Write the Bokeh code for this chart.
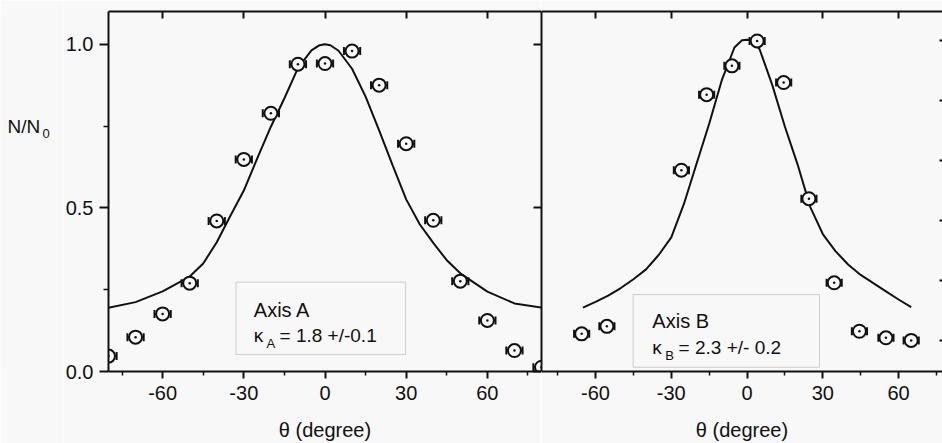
from bokeh.plotting import figure
from bokeh.models import (LinearAxis, FixedTicker, Range1d, Label, BoxAnnotation,
                          NumeralTickFormatter, CustomJSTickFormatter, ColumnDataSource)
from bokeh.layouts import row
from bokeh.embed import file_html
from bokeh.resources import INLINE

FONT = "Liberation Sans"
BG = "#f7f8f7"
INK = "#111111"

# ---- Axis A: normalised counts vs angle ----
theta_a = [-80, -70, -60, -50, -40, -30, -20, -10, 0, 10, 20, 30, 40, 50, 60, 70, 80]
ratio_a = [0.047, 0.105, 0.176, 0.270, 0.460, 0.648, 0.789, 0.939, 0.941,
           0.979, 0.875, 0.696, 0.462, 0.276, 0.156, 0.064, 0.013]

# fitted distribution for axis A
fit_theta_a = [-80, -70, -60, -50, -45, -40, -35, -30, -25, -20, -15, -10, -5, -2, 0,
               2, 5, 10, 15, 20, 25, 30, 35, 40, 45, 50, 60, 70, 80]
fit_ratio_a = [0.195, 0.212, 0.245, 0.290, 0.330, 0.395, 0.475, 0.553, 0.652, 0.748,
               0.835, 0.927, 0.981, 0.997, 1.000, 0.997, 0.980, 0.925, 0.840, 0.737,
               0.630, 0.526, 0.450, 0.393, 0.340, 0.300, 0.244, 0.208, 0.195]

# ---- Axis B ----
theta_b = [-65.5, -55.5, -26, -16, -6, 4, 14.5, 24.5, 34.5, 44.5, 55, 65]
ratio_b = [0.115, 0.138, 0.615, 0.846, 0.934, 1.010, 0.883, 0.528, 0.271, 0.123, 0.103, 0.095]

fit_theta_b = [-65, -60, -55, -50, -45, -40, -35, -30, -25, -20, -15, -10, -5, -2, 0,
               2, 5, 10, 15, 20, 25, 30, 35, 40, 45, 50, 55, 60, 65]
fit_ratio_b = [0.195, 0.213, 0.232, 0.255, 0.282, 0.312, 0.356, 0.410, 0.512, 0.635,
               0.757, 0.890, 0.990, 1.012, 1.014, 1.012, 0.984, 0.875, 0.748, 0.633,
               0.503, 0.420, 0.368, 0.327, 0.295, 0.270, 0.245, 0.220, 0.197]

# angular uncertainty of each point (degrees)
theta_err = 3.0

x_major_ticks = [-60, -30, 0, 30, 60]
x_minor_ticks = [-75, -45, -15, 15, 45, 75]
y_major_ticks = [0.0, 0.5, 1.0]
y_minor_ticks = [0.25, 0.75]
edge_ticks = [0.0, 0.2, 0.4, 0.6, 0.8, 1.0]

BLANK = CustomJSTickFormatter(code="return ''")


def make_panel(width, x_start, x_end, border_left):
    p = figure(width=width, height=443,
               x_range=Range1d(x_start, x_end), y_range=Range1d(0, 1.1),
               output_backend="svg", toolbar_location=None,
               x_axis_location=None, y_axis_location=None,
               min_border_left=border_left, min_border_right=0,
               min_border_top=11, min_border_bottom=72,
               background_fill_color=BG, border_fill_color=BG,
               outline_line_color=None)
    p.xgrid.visible = False
    p.ygrid.visible = False
    return p


def line_axis(ax):
    ax.axis_line_color = INK
    ax.axis_line_width = 2
    ax.major_tick_line_color = INK
    ax.major_tick_line_width = 2
    ax.minor_tick_line_color = INK
    ax.minor_tick_line_width = 1.5
    return ax


def silent_axis(ax):
    # tick marks only, no tick text
    ax.formatter = BLANK
    ax.major_label_text_font_size = "1px"
    ax.major_label_standoff = 0
    ax.minor_tick_line_color = None
    return ax


def add_frame_axes(p):
    bottom = line_axis(LinearAxis(ticker=FixedTicker(ticks=x_major_ticks, minor_ticks=x_minor_ticks)))
    bottom.formatter = NumeralTickFormatter(format="0")
    bottom.major_tick_out = 7
    bottom.major_tick_in = 0
    bottom.minor_tick_out = 4
    bottom.minor_tick_in = 0
    bottom.major_label_text_font = FONT
    bottom.major_label_text_font_size = "20px"
    bottom.major_label_text_color = INK
    bottom.major_label_standoff = 7
    bottom.axis_label = "θ (degree)"
    bottom.axis_label_text_font = FONT
    bottom.axis_label_text_font_size = "20px"
    bottom.axis_label_text_font_style = "normal"
    bottom.axis_label_text_color = INK
    bottom.axis_label_standoff = 16
    p.add_layout(bottom, "below")

    top = silent_axis(line_axis(LinearAxis(ticker=FixedTicker(ticks=x_major_ticks))))
    top.major_tick_in = 7
    top.major_tick_out = 0
    p.add_layout(top, "above")


def draw_points(p, thetas, ratios):
    src = ColumnDataSource(dict(
        x=thetas, y=ratios,
        lo=[t - theta_err for t in thetas],
        hi=[t + theta_err for t in thetas]))
    p.segment(x0="lo", x1="hi", y0="y", y1="y", source=src, line_color=INK, line_width=2)
    p.scatter(x="lo", y="y", source=src, marker="dash", angle=1.5708, size=8,
              line_color=INK, line_width=2)
    p.scatter(x="hi", y="y", source=src, marker="dash", angle=1.5708, size=8,
              line_color=INK, line_width=2)
    p.scatter(x="x", y="y", source=src, marker="circle", size=13,
              fill_color=BG, line_color=INK, line_width=2)
    p.scatter(x="x", y="y", source=src, marker="circle", size=2.5,
              fill_color=INK, line_color=None)


def text(p, x, y, s, size="20px"):
    p.add_layout(Label(x=x, y=y, text=s, text_font=FONT, text_font_size=size,
                       text_color=INK, text_align="left", text_baseline="alphabetic"))


# ---------------- y-axis title strip ----------------
ylab = figure(width=62, height=443, x_range=Range1d(0, 62), y_range=Range1d(443, 0),
              output_backend="svg", toolbar_location=None,
              x_axis_location=None, y_axis_location=None,
              min_border_left=0, min_border_right=0, min_border_top=0, min_border_bottom=0,
              background_fill_color=BG, border_fill_color=BG, outline_line_color=None)
ylab.xgrid.visible = False
ylab.ygrid.visible = False
text(ylab, 7, 142, "N/N", "19px")
text(ylab, 42, 150, "0", "13px")

# ---------------- left panel (axis A) ----------------
pa = make_panel(479, -80, 80, 44)
add_frame_axes(pa)

left = line_axis(LinearAxis(ticker=FixedTicker(ticks=y_major_ticks, minor_ticks=y_minor_ticks)))
left.major_tick_out = 9
left.major_tick_in = 0
left.minor_tick_out = 5
left.minor_tick_in = 0
left.formatter = NumeralTickFormatter(format="0.0")
left.major_label_text_font = FONT
left.major_label_text_font_size = "20px"
left.major_label_text_color = INK
left.major_label_standoff = 6
pa.add_layout(left, "left")

divider = silent_axis(line_axis(LinearAxis(ticker=FixedTicker(ticks=y_major_ticks))))
divider.major_tick_in = 8
divider.major_tick_out = 0
pa.add_layout(divider, "right")

pa.line(fit_theta_a, fit_ratio_a, line_color=INK, line_width=2)
draw_points(pa, theta_a, ratio_a)

pa.add_layout(BoxAnnotation(left=-32.9, right=29.8, bottom=0.052, top=0.273,
                            fill_alpha=0, line_color="#6a6a6a", line_width=1))
text(pa, -26.3, 0.189, "Axis A")
text(pa, -26.3, 0.110, "κ", "19px")
text(pa, -21.6, 0.086, "A", "13px")
text(pa, -16.8, 0.110, "= 1.8 +/-0.1", "19px")

# ---------------- right panel (axis B) ----------------
pb = make_panel(401, -81.4, 77.4, 0)
pb.extra_y_ranges = {"edge": Range1d(-0.1033, 1.0967)}
add_frame_axes(pb)

seam = silent_axis(line_axis(LinearAxis(ticker=FixedTicker(ticks=[]))))
seam.major_tick_in = 0
seam.major_tick_out = 0
pb.add_layout(seam, "left")

edge = silent_axis(LinearAxis(y_range_name="edge", ticker=FixedTicker(ticks=edge_ticks)))
edge.axis_line_color = None
edge.major_tick_line_color = INK
edge.major_tick_line_width = 2
edge.major_tick_in = 3
edge.major_tick_out = 0
pb.add_layout(edge, "right")

pb.line(fit_theta_b, fit_ratio_b, line_color=INK, line_width=2)
draw_points(pb, theta_b, ratio_b)

pb.add_layout(BoxAnnotation(left=-45.1, right=28.7, bottom=0.013, top=0.235,
                            fill_alpha=0, line_color="#6a6a6a", line_width=1))
text(pb, -37.5, 0.154, "Axis B")
text(pb, -37.5, 0.074, "κ", "19px")
text(pb, -32.4, 0.050, "B", "13px")
text(pb, -27.1, 0.074, "= 2.3 +/- 0.2", "19px")

layout = row(ylab, pa, pb)
open("out.html", "w").write(file_html(layout, INLINE))
